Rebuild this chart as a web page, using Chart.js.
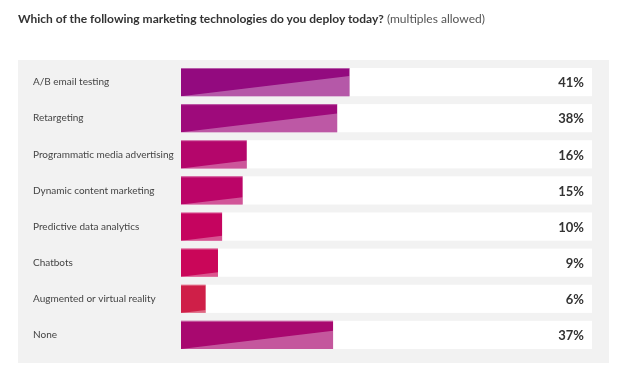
<!DOCTYPE html>
<html>
<head>
  <title>Marketing technologies deployed today</title>
  <meta charset="UTF-8">
  <script src="https://cdn.jsdelivr.net/npm/chart.js"></script>
  <style>
    body {
      margin: 0;
      background: #ffffff;
      font-family: Lato, "Open Sans", Arial, sans-serif;
    }
    .title {
      position: absolute;
      left: 18px;
      top: 11px;
      font-size: 12px;
      color: #333;
      white-space: nowrap;
    }
    .title b { font-weight: 700; }
    .title span { color: #555; }
    .wrap {
      position: absolute;
      left: 0;
      top: 0;
      width: 626px;
      height: 379px;
    }
  </style>
</head>
<body>
  <div class="wrap"><canvas id="techChart"></canvas></div>
  <div class="title"><b>Which of the following marketing technologies do you deploy today?</b> <span>(multiples allowed)</span></div>

  <script>
    const categories = [
      'A/B email testing',
      'Retargeting',
      'Programmatic media advertising',
      'Dynamic content marketing',
      'Predictive data analytics',
      'Chatbots',
      'Augmented or virtual reality',
      'None'
    ];
    const percentages = [41, 38, 16, 15, 10, 9, 6, 37];
    const valueLabels = ['41%', '38%', '16%', '15%', '10%', '9%', '6%', '37%'];

    const barColors = ['#930a7f', '#9e0a7b', '#b4066b', '#bb0568', '#c5045f', '#ca0659', '#cf1f48', '#a8086f'];

    // grey panel behind the whole chart
    const panelPlugin = {
      id: 'panel',
      beforeDraw(chart) {
        const { ctx, chartArea } = chart;
        ctx.save();
        ctx.fillStyle = '#f2f2f2';
        ctx.fillRect(18, chartArea.top - 4, 591, chartArea.bottom - chartArea.top + 14);
        ctx.restore();
      }
    };

    // white track behind each bar, the full 0-100 width
    const trackPlugin = {
      id: 'tracks',
      beforeDatasetsDraw(chart) {
        const { ctx, chartArea } = chart;
        const meta = chart.getDatasetMeta(0);
        ctx.save();
        ctx.fillStyle = '#ffffff';
        meta.data.forEach(bar => {
          ctx.fillRect(chartArea.left, bar.y - bar.height / 2, chartArea.right - chartArea.left, bar.height);
        });
        ctx.restore();
      }
    };

    // lighter diagonal wedge, top highlight and the value text
    const decoPlugin = {
      id: 'deco',
      afterDatasetsDraw(chart) {
        const { ctx, chartArea } = chart;
        const meta = chart.getDatasetMeta(0);
        ctx.save();
        meta.data.forEach((bar, i) => {
          const left = bar.base;
          const right = bar.x;
          const top = bar.y - bar.height / 2;
          const bottom = bar.y + bar.height / 2;
          const rise = Math.min(bar.height - 6, (right - left) * 0.12);

          ctx.fillStyle = 'rgba(255,255,255,0.32)';
          ctx.beginPath();
          ctx.moveTo(left, bottom);
          ctx.lineTo(right, bottom);
          ctx.lineTo(right, bottom - rise);
          ctx.closePath();
          ctx.fill();

          ctx.fillStyle = 'rgba(255,255,255,0.35)';
          ctx.fillRect(left, top, right - left, 1);

          ctx.fillStyle = '#333333';
          ctx.font = '700 13px Lato, "Open Sans", Arial, sans-serif';
          ctx.textAlign = 'right';
          ctx.textBaseline = 'middle';
          ctx.fillText(valueLabels[i], chartArea.right - 8, bar.y + 1);
        });
        ctx.restore();
      }
    };

    new Chart(document.getElementById('techChart'), {
      type: 'bar',
      data: {
        labels: categories,
        datasets: [{
          data: percentages,
          backgroundColor: barColors,
          borderWidth: 0,
          barPercentage: 0.78,
          categoryPercentage: 1
        }]
      },
      options: {
        indexAxis: 'y',
        responsive: true,
        maintainAspectRatio: false,
        animation: false,
        layout: {
          padding: { left: 33, right: 34, top: 64, bottom: 26 }
        },
        scales: {
          x: {
            display: false,
            min: 0,
            max: 100
          },
          y: {
            grid: { display: false, drawTicks: false },
            border: { display: false },
            ticks: {
              crossAlign: 'far',
              color: '#444444',
              font: { family: 'Lato, "Open Sans", Arial, sans-serif', size: 10 }
            },
            afterFit(scale) {
              scale.width = 148;
            }
          }
        },
        plugins: {
          legend: { display: false },
          tooltip: {
            callbacks: {
              label: ctx => ctx.raw + '%'
            }
          }
        }
      },
      plugins: [panelPlugin, trackPlugin, decoPlugin]
    });
  </script>
</body>
</html>
